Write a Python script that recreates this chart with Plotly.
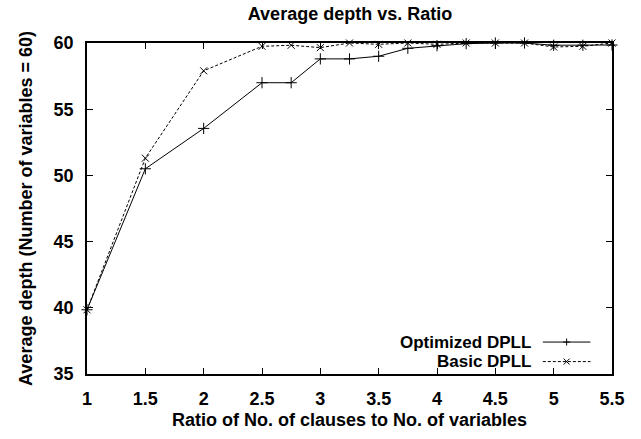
import plotly.graph_objects as go

ratio = [1, 1.5, 2, 2.5, 2.75, 3, 3.25, 3.5, 3.75, 4, 4.25, 4.5, 4.75, 5, 5.25, 5.5]
optimized = [39.85, 50.5, 53.55, 57.0, 57.0, 58.8, 58.8, 59.0, 59.6, 59.8, 59.95, 60.0, 60.0, 59.83, 59.83, 59.85]
basic = [39.85, 51.3, 57.9, 59.75, 59.83, 59.65, 60.0, 59.9, 60.0, 59.9, 60.0, 60.0, 60.0, 59.7, 59.75, 60.0]
x_ticks = [1, 1.5, 2, 2.5, 3, 3.5, 4, 4.5, 5, 5.5]
x_tick_labels = ["1", "1.5", "2", "2.5", "3", "3.5", "4", "4.5", "5", "5.5"]
y_ticks = [35, 40, 45, 50, 55, 60]
series_names = ["Optimized DPLL", "Basic DPLL"]

FONT = "Liberation Sans"
FS = 18


def bold_font(size=FS):
    return dict(family=FONT, size=size, color="black", weight="bold")


fig = go.Figure()
fig.add_trace(go.Scatter(
    x=ratio, y=optimized, mode="lines+markers", name=series_names[0],
    line=dict(color="black", width=1, dash="solid"),
    marker=dict(symbol="cross-thin", size=8, color="black", line=dict(color="black", width=1)),
    cliponaxis=False, showlegend=False,
))
fig.add_trace(go.Scatter(
    x=ratio, y=basic, mode="lines+markers", name=series_names[1],
    line=dict(color="black", width=1, dash="3px,2px"),
    marker=dict(symbol="x-thin", size=7, color="black", line=dict(color="black", width=1)),
    cliponaxis=False, showlegend=False,
))

axis_common = dict(
    showgrid=False, zeroline=False, showline=True, linecolor="black", linewidth=1.5,
    mirror="ticks", ticks="inside", ticklen=6, tickwidth=1, tickcolor="black",
    tickfont=bold_font(),
)

fig.update_layout(
    width=641, height=439,
    margin=dict(l=87, r=29, t=43, b=57, pad=0),
    paper_bgcolor="white", plot_bgcolor="white",
    title=dict(text="Average depth vs. Ratio", x=0.546, xanchor="center", y=0.968, yanchor="middle",
               font=bold_font()),
    xaxis=dict(range=[1, 5.5], tickvals=x_ticks, ticktext=x_tick_labels, ticklabelstandoff=8,
               title=dict(text="Ratio of No. of clauses to No. of variables", standoff=5,
                          font=bold_font()),
               **axis_common),
    yaxis=dict(range=[35, 60], tickvals=y_ticks, ticklabelstandoff=8,
               title=dict(text="Average depth (Number of variables = 60)", standoff=16,
                          font=bold_font()),
               **axis_common),
    showlegend=False,
)

# key: labels on the left, line samples on the right (gnuplot style)
key_rows_y = [0.0965, 0.0375]
key_x_text, key_x0, key_x1, key_xm = 0.8467, 0.8683, 0.9590, 0.9136
dashes = ["solid", "3px,2px"]
for i, name in enumerate(series_names):
    yk = key_rows_y[i]
    fig.add_annotation(text=name, xref="paper", yref="paper",
                       x=key_x_text, y=yk, xanchor="right", yanchor="middle",
                       borderpad=0, showarrow=False, font=bold_font(17))
    fig.add_shape(type="line", xref="paper", yref="paper", x0=key_x0, x1=key_x1, y0=yk, y1=yk,
                  line=dict(color="black", width=1, dash=dashes[i]))
    if i == 0:
        segs = [(-3.5, 0, 3.5, 0), (0, -3.5, 0, 3.5)]
    else:
        segs = [(-3, -3, 3, 3), (-3, 3, 3, -3)]
    for (a, b, c, d) in segs:
        fig.add_shape(type="line", xref="paper", yref="paper",
                      xsizemode="pixel", ysizemode="pixel", xanchor=key_xm, yanchor=yk,
                      x0=a, x1=c, y0=b, y1=d, line=dict(color="black", width=1))

fig.write_html("out.html")
